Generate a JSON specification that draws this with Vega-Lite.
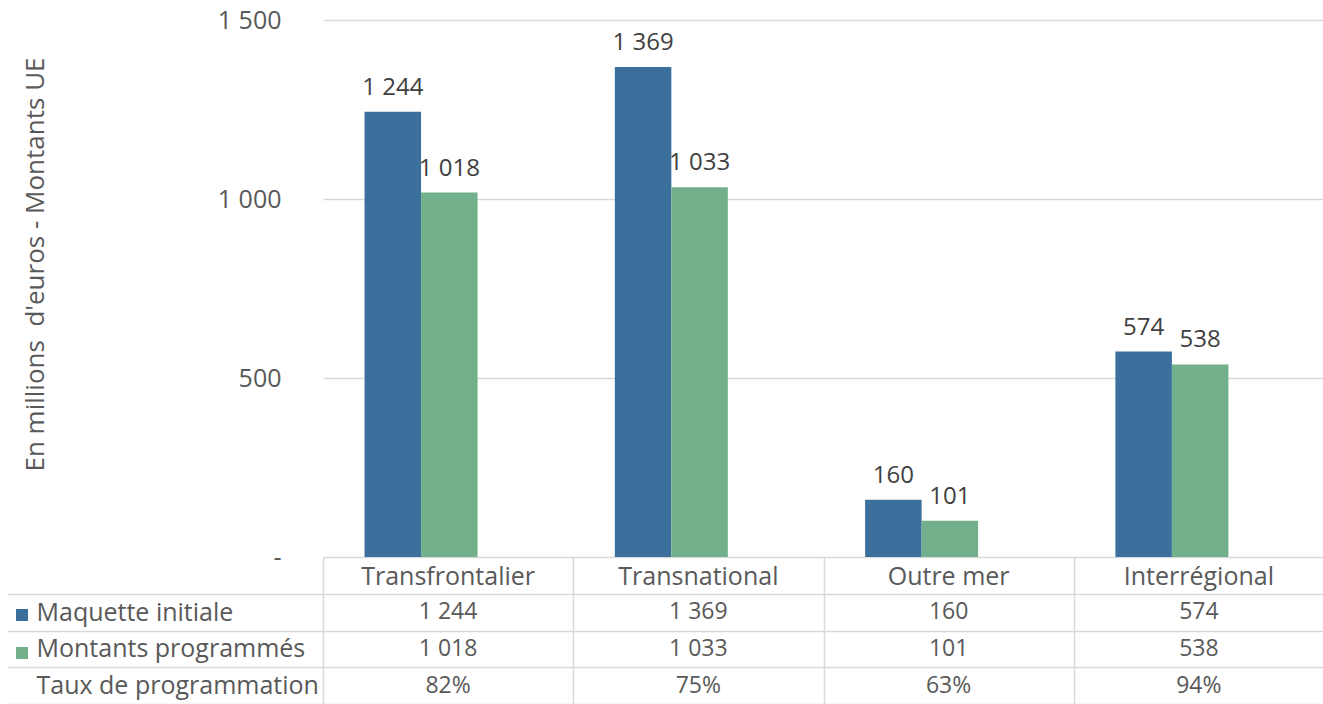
{
  "$schema": "https://vega.github.io/schema/vega-lite/v6.json",
  "padding": {"left": 6, "top": 8, "right": 0, "bottom": 0},
  "bounds": "flush",
  "spacing": 0,
  "config": {
    "locale": {"number": {"decimal": ",", "thousands": " ", "grouping": [3], "currency": ["", " €"]}},
    "font": "Open Sans",
    "view": {"stroke": null},
    "axis": {"labelFont": "Open Sans", "titleFont": "Open Sans", "labelColor": "#595959", "titleColor": "#595959", "gridColor": "#d9d9d9", "gridWidth": 1.5}
  },
  "datasets": {
    "montants": [
      {"cat": "Transfrontalier", "serie": "Maquette initiale", "value": 1244},
      {"cat": "Transfrontalier", "serie": "Montants programmés", "value": 1018},
      {"cat": "Transnational", "serie": "Maquette initiale", "value": 1369},
      {"cat": "Transnational", "serie": "Montants programmés", "value": 1033},
      {"cat": "Outre mer", "serie": "Maquette initiale", "value": 160},
      {"cat": "Outre mer", "serie": "Montants programmés", "value": 101},
      {"cat": "Interrégional", "serie": "Maquette initiale", "value": 574},
      {"cat": "Interrégional", "serie": "Montants programmés", "value": 538}
    ],
    "taux": [
      {"cat": "Transfrontalier", "taux": 0.82},
      {"cat": "Transnational", "taux": 0.75},
      {"cat": "Outre mer", "taux": 0.63},
      {"cat": "Interrégional", "taux": 0.94}
    ]
  },
  "vconcat": [
    {
      "width": 1001,
      "height": 537,
      "data": {"name": "montants"},
      "encoding": {
        "x": {"field": "cat", "type": "nominal", "sort": ["Transfrontalier", "Transnational", "Outre mer", "Interrégional"],
              "scale": {"paddingInner": 0.5485, "paddingOuter": 0.274, "align": 0.303}, "axis": null},
        "xOffset": {"field": "serie", "type": "nominal", "sort": ["Maquette initiale", "Montants programmés"], "scale": {"paddingInner": 0, "paddingOuter": 0}},
        "y": {"field": "value", "type": "quantitative",
              "scale": {"domain": [0, 1500], "nice": false},
              "axis": {"values": [0, 500, 1000, 1500], "labelExpr": "datum.value == 0 ? '-\u00a0\u00a0' : format(datum.value, ',')",
                       "domain": false, "ticks": false, "labelPadding": 42, "labelFontSize": 25,
                       "title": "En millions \u00a0d'euros - Montants UE", "titleFontSize": 26, "titleFontWeight": "normal",
                       "titleX": -288, "titleY": 244, "titleAngle": -90, "titleAlign": "center", "titleBaseline": "middle"}}
      },
      "layer": [
        {
          "mark": {"type": "bar"},
          "encoding": {
            "color": {"field": "serie", "type": "nominal", "sort": ["Maquette initiale", "Montants programmés"],
                      "scale": {"domain": ["Maquette initiale", "Montants programmés"], "range": ["#3b6f9c", "#72b08b"]},
                      "legend": {"orient": "none", "legendX": -307, "legendY": 589, "title": null, "symbolType": "square",
                                 "symbolSize": 144, "symbolStrokeWidth": 0, "labelExpr": "''", "labelFontSize": 12,
                                 "rowPadding": 26, "padding": 0, "offset": 0}}
          }
        },
        {
          "mark": {"type": "text", "baseline": "bottom", "dy": -12, "fontSize": 24, "color": "#404040"},
          "encoding": {"text": {"field": "value", "type": "quantitative", "format": ","}}
        }
      ]
    },
    {
      "width": 1001,
      "height": 147,
      "layer": [
        {
          "data": {"name": "montants"},
          "mark": {"type": "text", "fontSize": 23, "color": "#595959"},
          "encoding": {
            "x": {"field": "cat", "type": "nominal", "sort": ["Transfrontalier", "Transnational", "Outre mer", "Interrégional"],
                  "scale": {"paddingInner": 0, "paddingOuter": 0},
                  "axis": {"labels": false, "ticks": false, "domain": false, "grid": true, "tickBand": "extent", "title": null}},
            "y": {"field": "serie", "type": "nominal",
                  "scale": {"domain": ["Catégorie", "Maquette initiale", "Montants programmés", "Taux de programmation"], "paddingInner": 0, "paddingOuter": 0},
                  "axis": {"title": null, "domain": false, "grid": true, "tickBand": "extent", "tickSize": 316,
                           "values": ["Maquette initiale", "Montants programmés", "Taux de programmation"],
                           "tickColor": "#d9d9d9", "tickWidth": 1.5, "labelLimit": 400,
                           "labelExpr": "datum.value == 'Montants programmés' ? '\u2002' + datum.value : datum.value",
                           "labelAlign": "left", "labelPadding": -29, "labelFontSize": 25}},
            "text": {"field": "value", "type": "quantitative", "format": ","}
          }
        },
        {
          "data": {"name": "montants"},
          "transform": [{"filter": "datum.serie == 'Maquette initiale'"}],
          "mark": {"type": "text", "fontSize": 25, "color": "#595959", "dy": 2},
          "encoding": {
            "x": {"field": "cat", "type": "nominal", "sort": ["Transfrontalier", "Transnational", "Outre mer", "Interrégional"]},
            "y": {"datum": "Catégorie"},
            "text": {"field": "cat", "type": "nominal"}
          }
        },
        {
          "data": {"name": "taux"},
          "mark": {"type": "text", "fontSize": 23, "color": "#595959"},
          "encoding": {
            "x": {"field": "cat", "type": "nominal", "sort": ["Transfrontalier", "Transnational", "Outre mer", "Interrégional"]},
            "y": {"datum": "Taux de programmation"},
            "text": {"field": "taux", "type": "quantitative", "format": ".0%"}
          }
        }
      ]
    }
  ]
}
